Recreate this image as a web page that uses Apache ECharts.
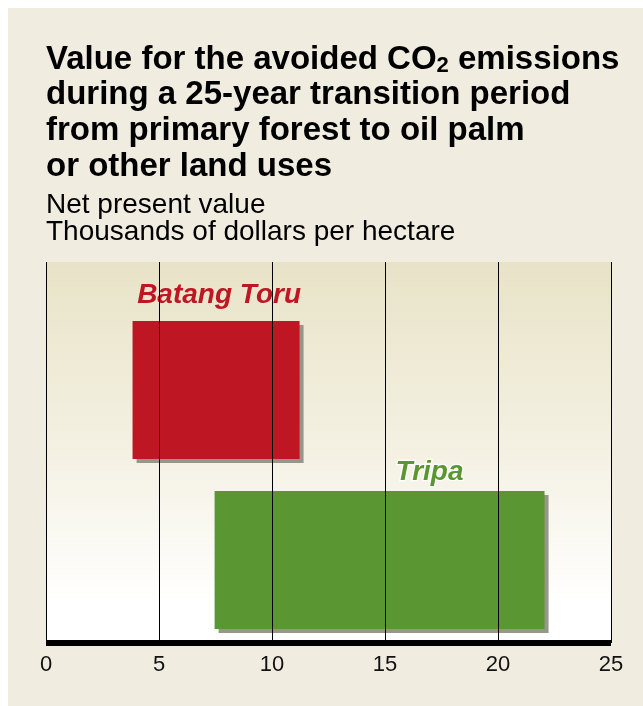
<!DOCTYPE html>
<html>
<head>
<meta charset="utf-8">
<style>
html,body{margin:0;padding:0;background:#fff;}
#main{width:643px;height:706px;}
</style>
<script src="https://cdn.jsdelivr.net/npm/echarts@6/dist/echarts.min.js"></script>
</head>
<body>
<div id="main"></div>
<script>
// ---- data ----
const categories = ['Batang Toru', 'Tripa'];
const lowValues = [3.83, 7.46];
const highValues = [11.22, 22.06];
const xTicks = [0, 5, 10, 15, 20, 25];

// ---- styles ----
const FONT = '"Liberation Sans", Arial, Helvetica, sans-serif';
const barColors = ['#be1622', '#5a9732'];
const labelOffsets = [[3, 0], [50, 0]];
const labelDistances = [12, 5];
const labelBorders = [0, 2.5];

const chart = echarts.init(document.getElementById('main'), null, {renderer: 'canvas'});

const rangeData = categories.map((c, i) => ({
  value: +(highValues[i] - lowValues[i]).toFixed(2),
  itemStyle: {
    color: barColors[i],
    shadowColor: '#96968a',
    shadowBlur: 0,
    shadowOffsetX: 4,
    shadowOffsetY: 4
  },
  label: {
    show: true,
    position: 'top',
    distance: labelDistances[i],
    offset: labelOffsets[i],
    formatter: () => c,
    color: barColors[i],
    fontFamily: FONT,
    fontSize: 28,
    fontWeight: 'bold',
    fontStyle: 'italic',
    textBorderColor: '#ffffff',
    textBorderWidth: labelBorders[i]
  }
}));

const option = {
  backgroundColor: '#ffffff',
  animation: false,
  graphic: [{
    type: 'rect',
    left: 8, top: 8, z: -100,
    shape: {width: 635, height: 698},
    style: {fill: '#f0ece0'},
    silent: true
  }],
  title: [{
    left: 46, top: 42, padding: 0,
    text: '{b|Value for the avoided CO}{s|2}{b| emissions}\n{b|during a 25-year transition period}\n{b|from primary forest to oil palm}\n{b|or other land uses}',
    textStyle: {
      rich: {
        b: {fontFamily: FONT, fontSize: 33, fontWeight: 'bold', lineHeight: 35.6, color: '#000'},
        s: {fontFamily: FONT, fontSize: 22, fontWeight: 'bold', lineHeight: 24, height: 24, verticalAlign: 'bottom', color: '#000'}
      }
    }
  }, {
    left: 46, top: 192, padding: 0,
    text: 'Net present value\nThousands of dollars per hectare',
    textStyle: {fontFamily: FONT, fontSize: 28, fontWeight: 'normal', lineHeight: 26.7, color: '#000'}
  }],
  grid: [{
    left: 46, right: 32, top: 262, bottom: 63,
    show: true, borderWidth: 0,
    backgroundColor: {
      type: 'linear', x: 0, y: 0, x2: 0, y2: 1,
      colorStops: [
        {offset: 0, color: '#e8e3c7'},
        {offset: 0.5, color: '#f4f1e3'},
        {offset: 0.9, color: '#ffffff'},
        {offset: 1, color: '#ffffff'}
      ]
    }
  }, {
    left: 46, right: 32, top: 305, bottom: 61
  }],
  xAxis: [{
    gridIndex: 0, type: 'value', min: xTicks[0], max: xTicks[xTicks.length - 1],
    interval: xTicks[1] - xTicks[0], z: 5,
    axisLine: {show: true, lineStyle: {color: '#000', width: 6, cap: 'butt'}},
    axisTick: {show: false},
    splitLine: {show: true, lineStyle: {color: '#000', width: 1}},
    axisLabel: {
      margin: 11, fontFamily: FONT, fontSize: 22, color: '#111',
      formatter: v => xTicks.includes(v) ? String(v) : ''
    }
  }, {
    gridIndex: 1, type: 'value', min: xTicks[0], max: xTicks[xTicks.length - 1], show: false
  }],
  yAxis: [{
    gridIndex: 0, type: 'value', show: false
  }, {
    gridIndex: 1, type: 'category', data: categories, inverse: true, show: false
  }],
  series: [{
    type: 'bar', xAxisIndex: 1, yAxisIndex: 1, stack: 'range',
    data: lowValues, barWidth: 138,
    itemStyle: {color: 'rgba(0,0,0,0)'}, silent: true
  }, {
    type: 'bar', xAxisIndex: 1, yAxisIndex: 1, stack: 'range',
    data: rangeData, barWidth: 138
  }]
};
chart.setOption(option);
</script>
</body>
</html>
